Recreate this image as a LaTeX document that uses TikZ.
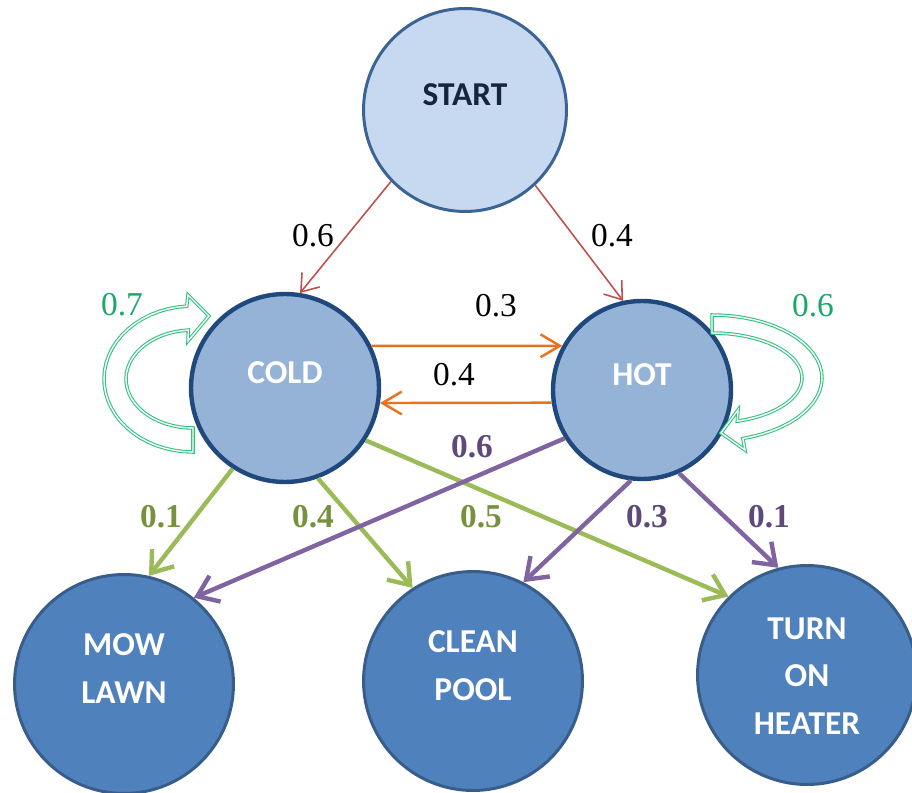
\documentclass[tikz,border=0pt]{standalone}
\usepackage{fontspec}
\setmainfont{Liberation Serif}
\newfontfamily\nodefont{Carlito}
\usetikzlibrary{arrows.meta}

\definecolor{startfill}{HTML}{C6D9F1}
\definecolor{startedge}{HTML}{3B6494}
\definecolor{weatherfill}{HTML}{95B3D7}
\definecolor{weatheredge}{HTML}{1F497D}
\definecolor{taskfill}{HTML}{4F81BD}
\definecolor{taskedge}{HTML}{385D8A}
\definecolor{navytext}{HTML}{17243D}
\definecolor{edgered}{HTML}{C0504D}
\definecolor{edgeorange}{HTML}{E8731E}
\definecolor{edgegreen}{HTML}{9BBB59}
\definecolor{edgepurple}{HTML}{8064A2}
\definecolor{loopgreen}{HTML}{2EC27E}
\definecolor{looptext}{HTML}{19A866}
\definecolor{olivetext}{HTML}{76923C}
\definecolor{purpletext}{HTML}{5F497A}

% text block lifted a bit above the circle centre
\newcommand{\ctext}[2][0.13cm]{\raisebox{#1}[0pt][0pt]{\begin{tabular}{@{}c@{}}#2\end{tabular}}}

\begin{document}
\begin{tikzpicture}[
    x=0.02cm, y=-0.02cm,
    state/.style={circle, inner sep=0pt, font=\nodefont\bfseries\fontsize{19}{27}\selectfont},
    startnode/.style={state, draw=startedge, fill=startfill, line width=1.7pt, text=navytext, minimum size=4.06cm},
    weather/.style={state, draw=weatheredge, fill=weatherfill, line width=2.5pt, text=white},
    task/.style={state, draw=taskedge, fill=taskfill, line width=1.7pt, text=white, minimum size=4.38cm},
    prob/.style={font=\fontsize{19}{22}\selectfont, inner sep=0pt},
    init/.style={draw=edgered, line width=0.9pt, -{Straight Barb[length=9pt,width=13pt]}},
    swap/.style={draw=edgeorange, line width=1.4pt, -{Straight Barb[length=11pt,width=13pt]}},
    coldout/.style={draw=edgegreen, line width=2.5pt, -{Straight Barb[length=11pt,width=16pt]}},
    hotout/.style={draw=edgepurple, line width=2.5pt, -{Straight Barb[length=11pt,width=16pt]}},
    loopline/.style={draw=loopgreen, double=white, double distance=0.8pt, line width=0.6pt, line join=miter},
    ]
    \path[use as bounding box, clip] (0,0) rectangle (912,793);
    \fill[white] (0,0) rectangle (912,793);

    %Nodes
    \node[startnode] at (465,110) (start) {\ctext{START}};
    \node[weather, minimum size=3.76cm] at (285,388) (cold) {\ctext{COLD}};
    \node[weather, minimum size=3.56cm] at (642,390) (hot) {\ctext{HOT}};
    \node[task] at (124,684) (mow) {\ctext{MOW\\LAWN}};
    \node[task] at (473,681) (pool) {\ctext{CLEAN\\POOL}};
    \node[task] at (807,675) (heater) {\ctext[-0.2cm]{TURN\\ON\\HEATER}};

    %Lines
    \draw[init] (start.224) -- (cold.81);
    \draw[init] (start.313) -- (hot.102);
    \draw[swap] (cold.26) -- (hot.151);
    \draw[swap] (hot.188) -- (cold.351);
    \draw[coldout] (cold.237) -- (mow.77);
    \draw[coldout] (cold.290) -- (pool.123);
    \draw[coldout] (cold.327) -- (heater.135);
    \draw[hotout] (hot.212) -- (mow.51);
    \draw[hotout] (hot.263) -- (pool.63);
    \draw[hotout] (hot.294) -- (heater.105);

    %self loops
    \draw[loopline, fill=white] plot[domain=90:266, samples=30, variable=\t] ({193+89*cos(\t)},{379+73*sin(\t)})
        -- (188,295) -- (209,316) -- (188,341)
        -- plot[domain=266:90, samples=30, variable=\t] ({193+67*cos(\t)},{379+49*sin(\t)}) -- cycle;
    \draw[loopline, fill=white] plot[domain=-90:73.7, samples=30, variable=\t] ({712+110*cos(\t)},{378+63*sin(\t)})
        -- (745,450) -- (721,433) -- (738,410)
        -- plot[domain=73.7:-90, samples=30, variable=\t] ({712+90*cos(\t)},{378+45*sin(\t)}) -- cycle;

    %Probabilities
    \node[prob] at (313,236) (p1) {0.6};
    \node[prob] at (612,236) (p2) {0.4};
    \node[prob] at (496,306) (p3) {0.3};
    \node[prob] at (454,375) (p4) {0.4};
    \node[prob, text=looptext] at (122,305) (p5) {0.7};
    \node[prob, text=looptext] at (813,306) (p6) {0.6};
    \node[prob, text=purpletext, font=\bfseries\fontsize{19}{22}\selectfont] at (472,447) (p7) {0.6};
    \node[prob, text=olivetext, font=\bfseries\fontsize{19}{22}\selectfont] at (161,517) (p8) {0.1};
    \node[prob, text=olivetext, font=\bfseries\fontsize{19}{22}\selectfont] at (313,517) (p9) {0.4};
    \node[prob, text=olivetext, font=\bfseries\fontsize{19}{22}\selectfont] at (481,517) (p10) {0.5};
    \node[prob, text=purpletext, font=\bfseries\fontsize{19}{22}\selectfont] at (647,517) (p11) {0.3};
    \node[prob, text=purpletext, font=\bfseries\fontsize{19}{22}\selectfont] at (769,517) (p12) {0.1};
\end{tikzpicture}
\end{document}
